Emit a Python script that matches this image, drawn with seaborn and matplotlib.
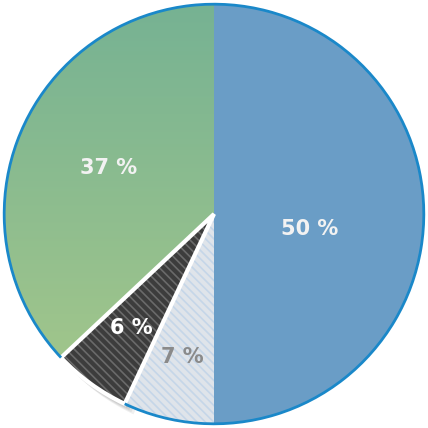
import numpy as np
import seaborn as sns
import matplotlib.pyplot as plt
from matplotlib.patches import Wedge, Arc
from matplotlib.colors import LinearSegmentedColormap

sns.set_theme(style="white")
plt.rcParams['font.family'] = ['DejaVu Sans']
plt.rcParams['hatch.linewidth'] = 1.2

# slice shares, clockwise from 12 o'clock
values = [50, 7, 6, 37]
colors = ["#6a9dc6", "#dfe4ea", "#3c3c3c", "#8dbb88"]
pct_r = [0.46, 0.70, 0.67, 0.55]
pct_shift = [-9, 0, 0, 0]  # label angle offset, degrees
txt_colors = ["#f2f2f2", "#8a8a8a", "white", "#f2f2f2"]

fig = plt.figure(figsize=(4.28, 4.28), dpi=100)
ax = fig.add_axes([0, 0, 1, 1])

wedges, texts = ax.pie(values, colors=colors, startangle=90, counterclock=False,
                       radius=1.0, wedgeprops=dict(linewidth=0))

# soft shadow under the dark slice
dark = wedges[2]
for i in range(4):
    ax.add_patch(Wedge((0.012 + 0.01 * i, -0.02 - 0.01 * i), 1.0, dark.theta1, dark.theta2,
                       facecolor="black", alpha=0.06, linewidth=0, zorder=0.5))

# green gradient clipped to its wedge (darker at top)
green = wedges[3]
grad = np.linspace(0, 1, 256).reshape(-1, 1)
cmap = LinearSegmentedColormap.from_list("g", ["#76b293", "#a8c98a"])
im = ax.imshow(grad, extent=[-1, 1, -1, 1], cmap=cmap, origin="upper", zorder=1.5)
im.set_clip_path(green)

# hatching
wedges[1].set_hatch("\\\\\\\\")
wedges[1].set_edgecolor("#c5d6e8")
wedges[2].set_hatch("\\\\\\\\")
wedges[2].set_edgecolor("#6a6a6a")

# white border on dark slice
ax.add_patch(Wedge((0, 0), 1.0, dark.theta1, dark.theta2, facecolor="none",
                   edgecolor="white", linewidth=3, zorder=3))

# blue outer ring except on the dark slice
ax.add_patch(Arc((0, 0), 2.0, 2.0, theta1=dark.theta2, theta2=dark.theta1 + 360,
                 color="#1a88c9", linewidth=2, zorder=3))

for w, v, r, s, c in zip(wedges, values, pct_r, pct_shift, txt_colors):
    mid = np.deg2rad((w.theta1 + w.theta2) / 2 + s)
    ax.text(r * np.cos(mid), r * np.sin(mid), f"{v} %", ha="center", va="center",
            color=c, fontsize=15, fontweight="bold", zorder=4)

ax.set_xlim(-1.02, 1.02)
ax.set_ylim(-1.02, 1.02)
ax.set_aspect("equal")
ax.axis("off")

fig.savefig("out.png", dpi=100)
